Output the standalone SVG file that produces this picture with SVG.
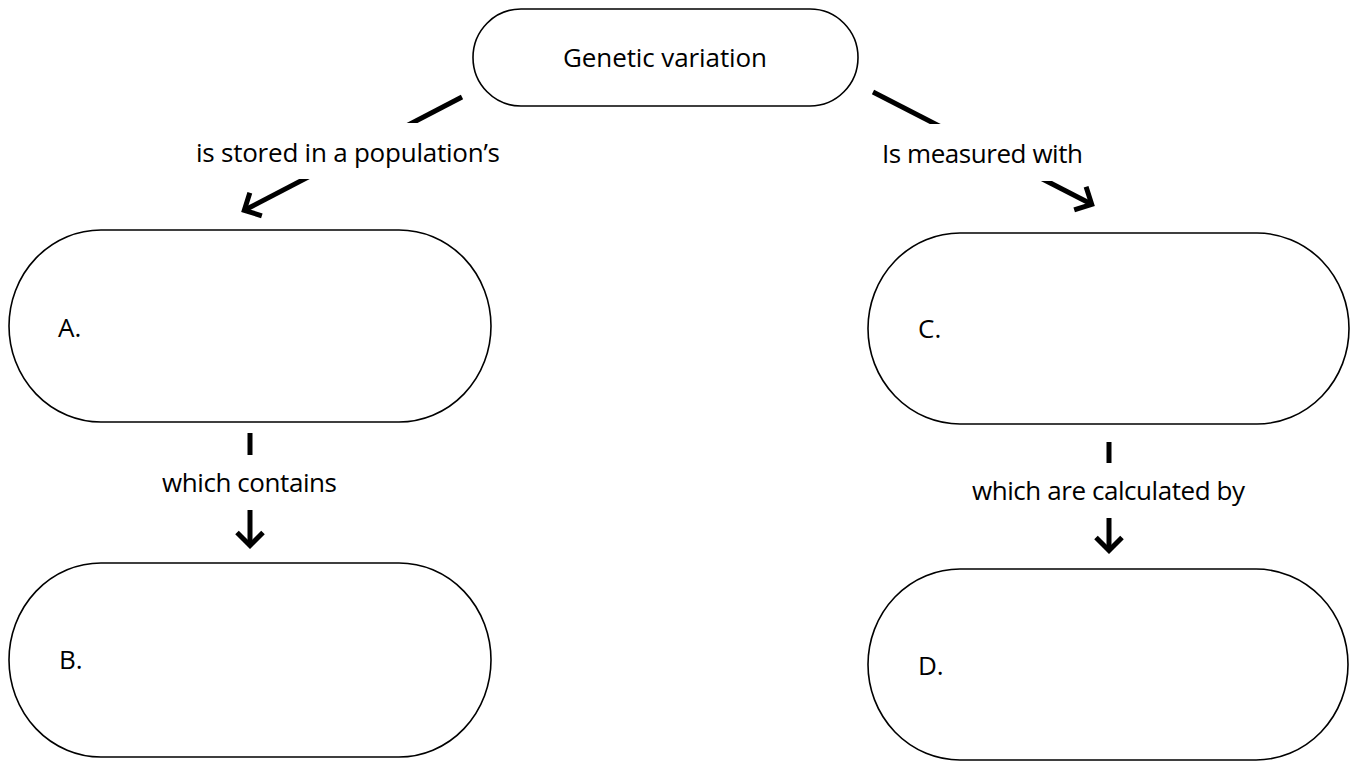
<svg xmlns="http://www.w3.org/2000/svg" width="1355" height="762" viewBox="0 0 1355 762">
<style>
.node{fill:#fff;stroke:#000;stroke-width:1.6}
.t{font-family:"Open Sans","Liberation Sans",sans-serif;font-size:26px;fill:#000}
.conn{stroke:#000;stroke-width:5;fill:none;marker-end:url(#ah)}
.bar{stroke:#000;stroke-width:5;fill:none}
.bg{fill:#fff}
</style>
<defs>
<marker id="ah" markerUnits="userSpaceOnUse" markerWidth="30" markerHeight="30" viewBox="0 0 30 30" refX="19" refY="13" orient="auto" overflow="visible">
<path d="M6,0 L19,13 L6,26" fill="none" stroke="#000" stroke-width="5" stroke-linejoin="miter"/>
</marker>
</defs>
<rect width="1355" height="762" fill="#fff"/>
<g id="connectors">
<line class="conn" x1="462" y1="97" x2="244.3" y2="210.3"/>
<line class="conn" x1="873" y1="92" x2="1091.7" y2="204.3"/>
<line class="bar" x1="250" y1="433" x2="250" y2="460"/>
<line class="conn" x1="250" y1="505" x2="250" y2="545.5"/>
<line class="bar" x1="1109" y1="442" x2="1109" y2="468"/>
<line class="conn" x1="1109" y1="513" x2="1109" y2="550.5"/>
</g>
<g id="label-stored">
<rect class="bg" x="150" y="123" width="360" height="56"/>
<text class="t" x="196" y="162" textLength="304">is stored in a population’s</text>
</g>
<g id="label-measured">
<rect class="bg" x="860" y="124" width="240" height="57"/>
<text class="t" x="882" y="163" textLength="201">Is measured with</text>
</g>
<g id="label-contains">
<rect class="bg" x="150" y="455" width="200" height="55"/>
<text class="t" x="162" y="492" textLength="175">which contains</text>
</g>
<g id="label-calculated">
<rect class="bg" x="960" y="463" width="300" height="55"/>
<text class="t" x="972" y="500" textLength="273">which are calculated by</text>
</g>
<g id="node-genetic">
<rect class="node" x="473" y="9" width="385" height="97" rx="48" ry="48.5"/>
<text class="t" x="563" y="67" textLength="204">Genetic variation</text>
</g>
<g id="node-A">
<rect class="node" x="9" y="230" width="482" height="192" rx="92" ry="96"/>
<text class="t" x="58" y="337">A.</text>
</g>
<g id="node-B">
<rect class="node" x="9" y="563" width="482" height="194" rx="92" ry="97"/>
<text class="t" x="59" y="669">B.</text>
</g>
<g id="node-C">
<rect class="node" x="868" y="233" width="481" height="191" rx="92" ry="95.5"/>
<text class="t" x="918" y="338">C.</text>
</g>
<g id="node-D">
<rect class="node" x="868" y="569" width="480" height="191" rx="92" ry="95.5"/>
<text class="t" x="918" y="675">D.</text>
</g>
</svg>
